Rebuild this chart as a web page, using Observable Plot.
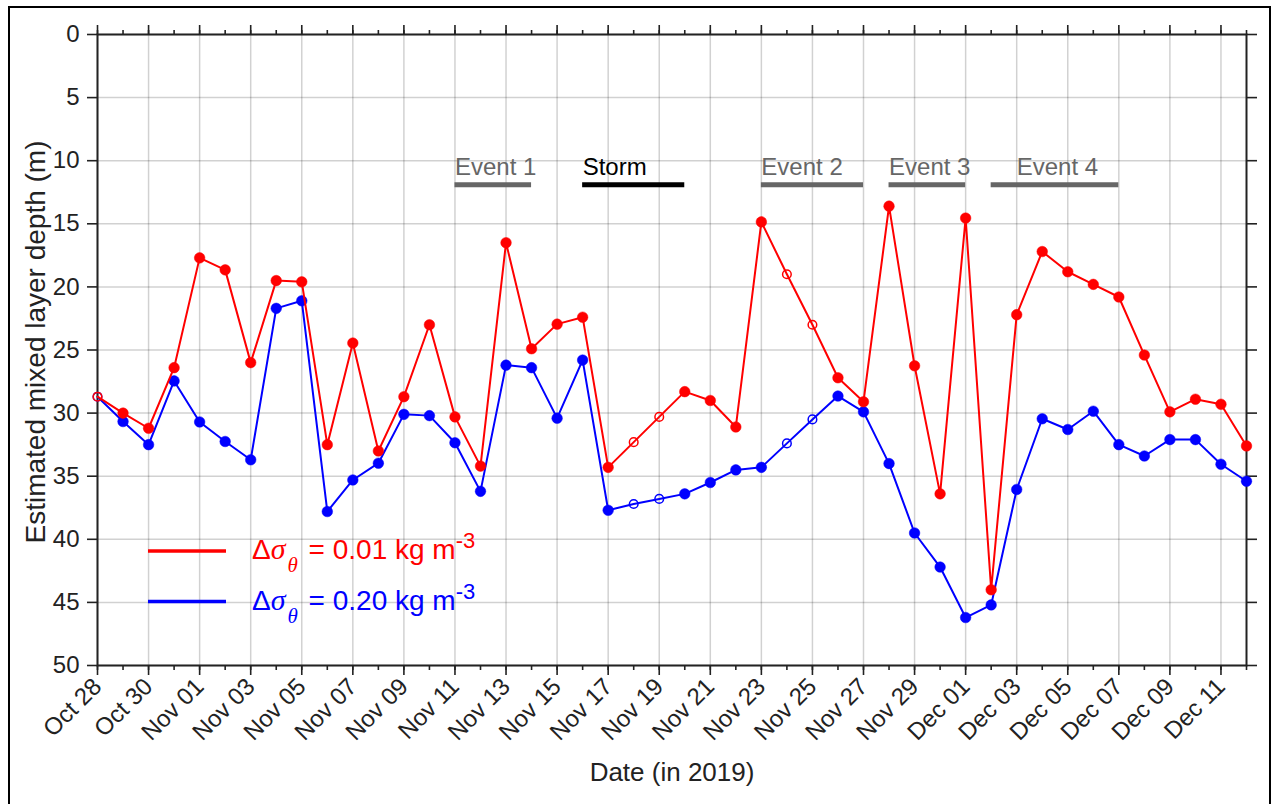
<!DOCTYPE html>
<html>
<head>
<meta charset="utf-8">
<script src="https://cdn.jsdelivr.net/npm/d3@7"></script>
<script src="https://cdn.jsdelivr.net/npm/@observablehq/plot@0.6"></script>
<style>
  html, body { margin: 0; padding: 0; background: #fff; overflow: hidden; }
  #chart { position: absolute; left: 0; top: 0; }
  #border { position: absolute; left: 8px; top: 6px; width: 1263px; height: 830px;
            border: 2px solid #000; box-sizing: border-box; pointer-events: none; }
</style>
</head>
<body>
<div id="chart"></div>
<div id="border"></div>
<script>
// Daily profiles, 28 Oct – 12 Dec 2019
const dates = [
  "2019-10-28","2019-10-29","2019-10-30","2019-10-31","2019-11-01","2019-11-02",
  "2019-11-03","2019-11-04","2019-11-05","2019-11-06","2019-11-07","2019-11-08",
  "2019-11-09","2019-11-10","2019-11-11","2019-11-12","2019-11-13","2019-11-14",
  "2019-11-15","2019-11-16","2019-11-17","2019-11-18","2019-11-19","2019-11-20",
  "2019-11-21","2019-11-22","2019-11-23","2019-11-24","2019-11-25","2019-11-26",
  "2019-11-27","2019-11-28","2019-11-29","2019-11-30","2019-12-01","2019-12-02",
  "2019-12-03","2019-12-04","2019-12-05","2019-12-06","2019-12-07","2019-12-08",
  "2019-12-09","2019-12-10","2019-12-11","2019-12-12"
];

// Mixed layer depth (m) for the 0.01 kg m^-3 threshold
const mldLow = [
  28.7, 30.0, 31.2, 26.4, 17.7, 18.65, 26.0, 19.5, 19.6, 32.5, 24.45, 33.0,
  28.7, 23.0, 30.3, 34.2, 16.5, 24.9, 22.95, 22.4, 34.3, 32.3, 30.3, 28.3,
  29.0, 31.1, 14.85, 19.0, 23.0, 27.2, 29.1, 13.6, 26.25, 36.4, 14.55, 44.0,
  22.2, 17.2, 18.8, 19.8, 20.8, 25.4, 29.9, 28.9, 29.3, 32.6
];

// Mixed layer depth (m) for the 0.20 kg m^-3 threshold
const mldHigh = [
  28.7, 30.67, 32.5, 27.45, 30.7, 32.25, 33.7, 21.7, 21.1, 37.8, 35.3, 33.97,
  30.1, 30.2, 32.35, 36.2, 26.2, 26.4, 30.4, 25.8, 37.7, 37.2, 36.8, 36.4,
  35.5, 34.5, 34.3, 32.4, 30.5, 28.65, 29.9, 34.0, 39.5, 42.2, 46.2, 45.2,
  36.05, 30.45, 31.3, 29.85, 32.5, 33.4, 32.1, 32.1, 34.05, 35.4
];

// Days without a direct profile (drawn as open circles)
const gapFilled = ["2019-10-28", "2019-11-18", "2019-11-19", "2019-11-24", "2019-11-25"];

// Episodes marked along the top of the panel
const eventNames   = ["Event 1", "Storm", "Event 2", "Event 3", "Event 4"];
const eventStart   = ["2019-11-11", "2019-11-16", "2019-11-23", "2019-11-28", "2019-12-02"];
const eventEnd     = ["2019-11-14", "2019-11-20", "2019-11-27", "2019-12-01", "2019-12-07"];
const eventLabelAt = ["2019-11-11", "2019-11-16", "2019-11-23", "2019-11-28", "2019-12-03"];

// Axis ticks
const yTicks = [0, 5, 10, 15, 20, 25, 30, 35, 40, 45, 50];
const majorTickDates = dates.filter((d, i) => i % 2 === 0);

// Legend entries
const legendThresholds = ["0.01", "0.20"];
const seriesColors = ["#ff0000", "#0000ff"];

const parse = d3.utcParse("%Y-%m-%d");
const rows = dates.map((d, i) => ({
  date: parse(d), low: mldLow[i], high: mldHigh[i], open: gapFilled.includes(d)
}));
const events = eventNames.map((name, i) => ({
  name, start: parse(eventStart[i]), end: parse(eventEnd[i]), labelAt: parse(eventLabelAt[i])
}));
const minorTicks = dates.map(parse);
const majorTicks = majorTickDates.map(parse);

const font = "'Liberation Sans', Arial, Helvetica, sans-serif";
const serif = "'Liberation Serif', 'DejaVu Serif', serif";
const axisColor = "#222";
const eventY = 11.9;
const eventColor = d => d.name === "Storm" ? "#000" : "#666";

const seriesMarks = (key, color) => [
  Plot.line(rows, {x: "date", y: key, stroke: color, strokeWidth: 2}),
  Plot.dot(rows.filter(r => !r.open), {x: "date", y: key, r: 5.3, fill: color, stroke: color, strokeWidth: 0.5}),
  Plot.dot(rows.filter(r => r.open), {x: "date", y: key, r: 4.3, fill: "none", stroke: color, strokeWidth: 1.5})
];

const plot = Plot.plot({
  width: 1273,
  height: 804,
  marginLeft: 97,
  marginRight: 27,
  marginTop: 34,
  marginBottom: 139,
  style: {fontFamily: font, fontSize: "20px", color: axisColor, background: "transparent"},
  x: {type: "utc", domain: [minorTicks[0], minorTicks[minorTicks.length - 1]]},
  y: {domain: [0, 50], reverse: true},
  marks: [
    Plot.gridX(majorTicks, {stroke: "#000", strokeOpacity: 0.18, strokeWidth: 1.5}),
    Plot.gridY(yTicks, {stroke: "#000", strokeOpacity: 0.18, strokeWidth: 1.5}),

    // bottom axis: daily minor ticks, labelled ticks every second day
    Plot.axisX(minorTicks, {anchor: "bottom", tickSize: 5, fill: "none", label: null, strokeWidth: 1.6}),
    Plot.axisX(majorTicks, {anchor: "bottom", tickSize: 10, tickRotate: -45, tickPadding: 7,
      tickFormat: d3.utcFormat("%b %d"), label: null, strokeWidth: 1.6, fontSize: 24}),
    // top axis mirrors the ticks without labels
    Plot.axisX(minorTicks, {anchor: "top", tickSize: 5, fill: "none", label: null, strokeWidth: 1.6}),
    Plot.axisX(majorTicks, {anchor: "top", tickSize: 10, fill: "none", label: null, strokeWidth: 1.6}),
    // depth axes
    Plot.axisY(yTicks, {anchor: "left", tickSize: 10, tickPadding: 8, label: null, strokeWidth: 1.6, fontSize: 24}),
    Plot.axisY(yTicks, {anchor: "right", tickSize: 10, fill: "none", label: null, strokeWidth: 1.6}),
    Plot.frame({stroke: axisColor, strokeWidth: 2}),

    // axis titles
    Plot.text(["Estimated mixed layer depth (m)"], {text: d => d, frameAnchor: "left", rotate: -90,
      textAnchor: "middle", dx: -61, dy: -8, fontSize: 28, fill: axisColor}),
    Plot.text(["Date (in 2019)"], {text: d => d, frameAnchor: "bottom", dy: 115, fontSize: 26, fill: axisColor}),

    // event bars and labels
    Plot.ruleY(events, {y: () => eventY, x1: "start", x2: "end", stroke: eventColor, strokeWidth: 5}),
    Plot.text(events, {x: "labelAt", y: () => eventY, text: "name", textAnchor: "start", lineAnchor: "bottom",
      dy: -10, fontSize: 24, fill: eventColor}),

    // series
    ...seriesMarks("high", seriesColors[1]),
    ...seriesMarks("low", seriesColors[0])
  ]
});

// Legend with sub/superscripts, placed in the lower-left of the panel
const svg = d3.select(plot);
const legend = svg.append("g").attr("font-family", font).attr("text-anchor", "start");
legendThresholds.forEach((value, k) => {
  const cy = 551 + k * 50.5;
  const color = seriesColors[k];
  legend.append("line")
    .attr("x1", 148).attr("x2", 226).attr("y1", cy).attr("y2", cy)
    .attr("stroke", color).attr("stroke-width", 3.3);
  const t = legend.append("text")
    .attr("x", 252).attr("y", cy + 8).attr("fill", color).attr("font-size", 28);
  t.append("tspan").text("Δ");
  t.append("tspan").attr("font-style", "italic").attr("font-family", serif)
    .attr("font-size", 30).text("σ");
  t.append("tspan").attr("font-style", "italic").attr("font-family", serif)
    .attr("font-size", 21).attr("dy", 13).attr("dx", 2).text("θ");
  t.append("tspan").attr("dy", -13).attr("dx", 3).text(` = ${value} kg m`);
  t.append("tspan").attr("font-size", 22).attr("dy", -11).text("-3");
});

document.getElementById("chart").appendChild(plot);
</script>
</body>
</html>
